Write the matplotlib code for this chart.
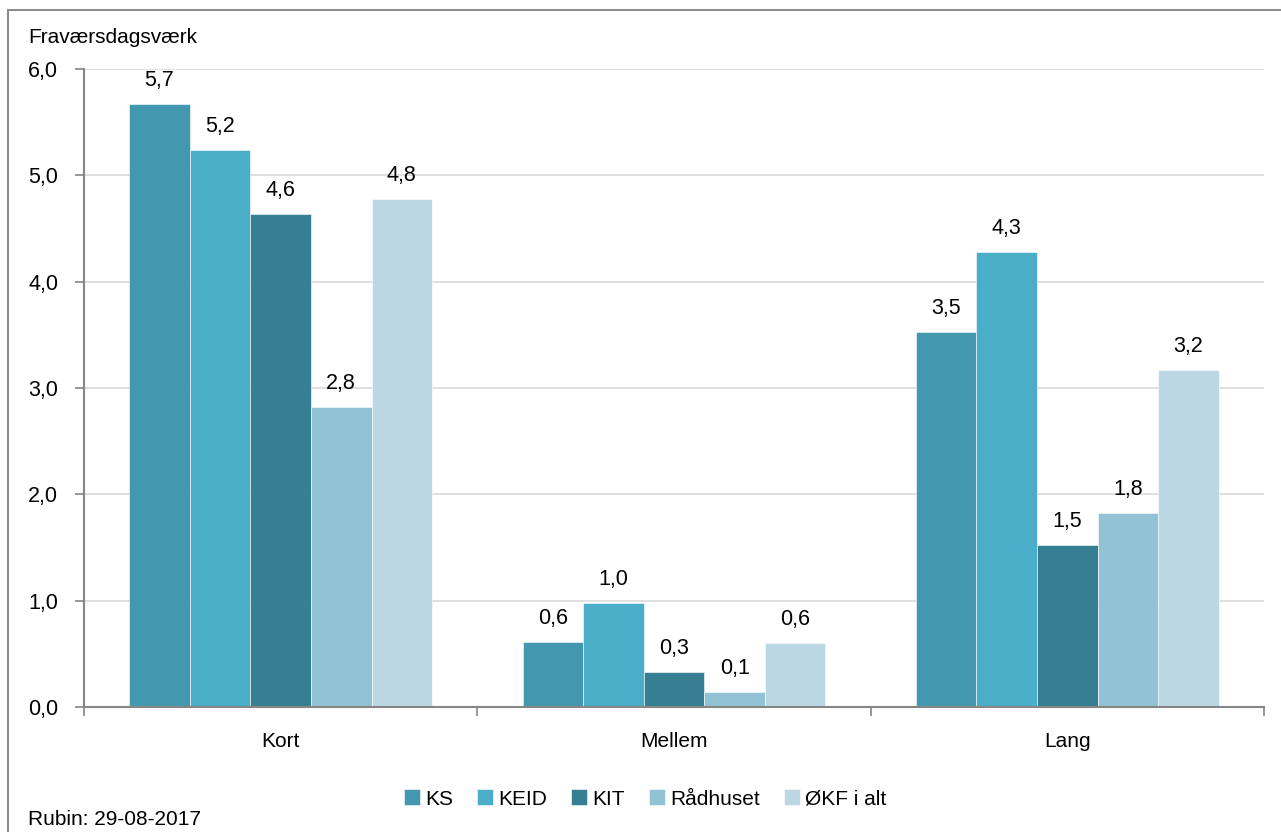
import matplotlib
matplotlib.use("Agg")
import matplotlib.pyplot as plt
import numpy as np
from matplotlib.patches import Rectangle

plt.rcParams['font.family'] = ['Liberation Sans', 'DejaVu Sans']

categories = ["Kort", "Mellem", "Lang"]
series_names = ["KS", "KEID", "KIT", "Rådhuset", "ØKF i alt"]
ks = [5.67, 0.61, 3.53]
keid = [5.24, 0.98, 4.28]
kit = [4.64, 0.33, 1.52]
raadhuset = [2.82, 0.14, 1.82]
okf = [4.78, 0.60, 3.17]
series_values = [ks, keid, kit, raadhuset, okf]
colors = ["#4398B0", "#4BAEC8", "#367F93", "#92C3D4", "#BAD7E3"]
yticks = [0, 1, 2, 3, 4, 5, 6]

FS = 15
NFS = 15.5

fig = plt.figure(figsize=(12.81, 8.32), dpi=100)
ax = fig.add_axes([84/1281, 1-707/832, (1264-84)/1281, (707-69)/832])

x = np.arange(len(categories))
group_w = 0.77
bw = group_w / len(series_names)
for i, (name, vals, c) in enumerate(zip(series_names, series_values, colors)):
    pos = x - group_w/2 + bw*(i+0.5)
    bars = ax.bar(pos, vals, width=bw, color=c, edgecolor="white", linewidth=0.4,
                  label=name, zorder=3)
    for b, v in zip(bars, vals):
        ax.annotate(f"{v:.1f}".replace(".", ","),
                    (b.get_x()+b.get_width()/2, v), xytext=(0, 13),
                    textcoords="offset points", ha="center", va="baseline",
                    fontsize=NFS, color="#000000")

ax.set_xlim(-0.5, len(categories)-0.5)
ax.set_ylim(0, 6)
ax.set_yticks(yticks)
ax.set_yticklabels([f"{v:.1f}".replace(".", ",") for v in yticks], fontsize=NFS)
ax.set_xticks(x)
ax.set_xticklabels(categories, fontsize=FS)
ax.set_xticks(np.arange(-0.5, len(categories), 1), minor=True)
ax.tick_params(axis="x", which="major", length=0, pad=18)
ax.tick_params(axis="x", which="minor", length=6.5, width=1.2, color="#868686", direction="out")
ax.tick_params(axis="y", length=6.5, width=1.2, color="#868686", pad=12)
ax.grid(axis="y", color="#D9D9D9", linewidth=1.2, zorder=0)
for s in ["top", "right"]:
    ax.spines[s].set_visible(False)
for s in ["left", "bottom"]:
    ax.spines[s].set_color("#868686")
    ax.spines[s].set_linewidth(1.5)
ax.spines["bottom"].set_zorder(4)

leg = fig.legend(loc="center", bbox_to_anchor=(645/1281, 1-799/832), ncol=5,
                 frameon=False, fontsize=FS, handlelength=0.77, handleheight=0.77,
                 handletextpad=0.25, columnspacing=1.15)

fig.text(28/1281, 1-43/832, "Fraværsdagsværk", fontsize=FS, va="baseline", ha="left")
fig.text(28/1281, 1-825/832, "Rubin: 29-08-2017", fontsize=FS, va="baseline", ha="left")

fig.patches.append(Rectangle((8/1281, -0.05), 1.1, 1-10/832+0.05, transform=fig.transFigure,
                             fill=False, edgecolor="#8C8C8C", linewidth=1.5))

fig.savefig("out.png", dpi=100)
